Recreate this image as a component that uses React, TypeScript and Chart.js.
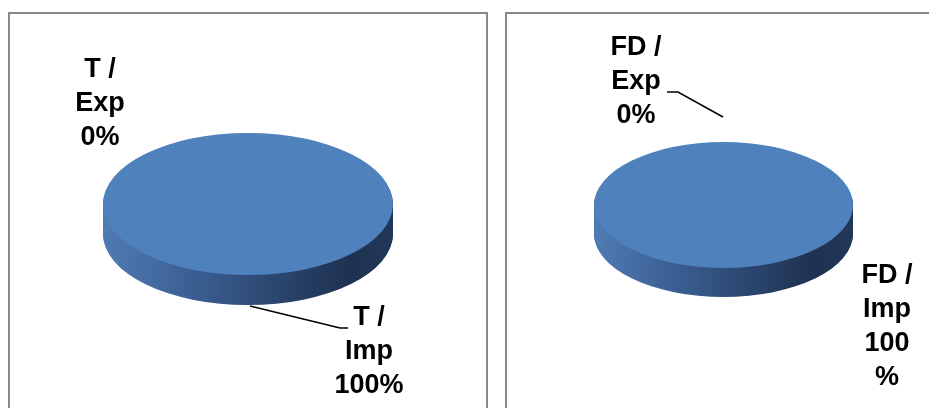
import React, { useEffect, useRef } from "react";
import { Chart, registerables } from "chart.js";

Chart.register(...registerables);

// ---- data ----
const seriesNames = ["T", "FD"];
const categories = ["Exp", "Imp"];
const tValues = [0, 100];
const fdValues = [0, 100];

const FONT = 'bold 27px "Liberation Sans", Arial, sans-serif';

type Pt = [number, number];
type LabelPos = { x: number; y: number; splitPct?: boolean };
type PanelCfg = {
  series: string;
  values: number[];
  canvasLeft: number;
  width: number;
  padding: { left: number; right: number; top: number; bottom: number };
  k: number;
  depth: number;
  labels: LabelPos[];
  leaders: Pt[][];
};

function labelLines(series: string, cat: string, value: number, total: number, splitPct?: boolean) {
  const pct = Math.round((value / total) * 100);
  const lines = [`${series} /`, cat];
  if (splitPct) lines.push(String(pct), "%");
  else lines.push(`${pct}%`);
  return lines;
}

const pie3d = {
  id: "pie3d",
  beforeDatasetsDraw(chart: any, _args: any, opts: any) {
    const meta = chart.getDatasetMeta(0);
    const arcs = meta.data as any[];
    const ctx = chart.ctx as CanvasRenderingContext2D;
    ctx.save();
    if (!arcs.length) return;
    const cx = arcs[0].x;
    const cy = arcs[0].y;
    const r = arcs[0].outerRadius;
    const k = opts.k;
    const depth = opts.depth;
    const grad = ctx.createLinearGradient(cx - r, 0, cx + r, 0);
    grad.addColorStop(0, "#4f7bb3");
    grad.addColorStop(0.25, "#3f649a");
    grad.addColorStop(0.55, "#2d4a74");
    grad.addColorStop(0.85, "#1e3150");
    grad.addColorStop(1, "#22385a");
    for (let d = depth; d >= 1; d--) {
      ctx.save();
      ctx.translate(cx, cy + d);
      ctx.scale(1, k);
      ctx.translate(-cx, -cy);
      arcs.forEach((a) => {
        if (!a.circumference) return;
        const fake = Object.assign(Object.create(Object.getPrototypeOf(a)), a, {
          options: { ...a.options, backgroundColor: grad, borderWidth: 0 },
        });
        fake.draw(ctx);
      });
      ctx.restore();
    }
    ctx.translate(cx, cy);
    ctx.scale(1, k);
    ctx.translate(-cx, -cy);
  },
  afterDatasetsDraw(chart: any) {
    chart.ctx.restore();
  },
  afterDraw(chart: any, _args: any, opts: any) {
    const ctx = chart.ctx as CanvasRenderingContext2D;
    const cfg: PanelCfg = opts.cfg;
    const total = cfg.values.reduce((s, v) => s + v, 0);
    ctx.save();
    ctx.strokeStyle = "#000";
    ctx.lineWidth = 1.5;
    cfg.leaders.forEach((pts) => {
      ctx.beginPath();
      pts.forEach(([x, y], i) => (i ? ctx.lineTo(x, y) : ctx.moveTo(x, y)));
      ctx.stroke();
    });
    ctx.fillStyle = "#000";
    ctx.font = FONT;
    ctx.textAlign = "center";
    ctx.textBaseline = "middle";
    const lh = 34;
    cfg.labels.forEach((lp, i) => {
      const lines = labelLines(cfg.series, categories[i], cfg.values[i], total, lp.splitPct);
      lines.forEach((t, j) => ctx.fillText(t, lp.x, lp.y + j * lh));
    });
    ctx.restore();
  },
};

const panels: PanelCfg[] = [
  {
    series: seriesNames[0],
    values: tValues,
    canvasLeft: 0,
    width: 496,
    padding: { left: 103, right: 103, top: 59, bottom: 59 },
    k: 0.49,
    depth: 30,
    labels: [
      { x: 100, y: 70 },
      { x: 369, y: 318 },
    ],
    leaders: [[[250, 306], [340, 328], [348, 328]]],
  },
  {
    series: seriesNames[1],
    values: fdValues,
    canvasLeft: 496,
    width: 433,
    padding: { left: 98, right: 76, top: 75.5, bottom: 73.5 },
    k: 0.486,
    depth: 29,
    labels: [
      { x: 140, y: 48 },
      { x: 391, y: 276, splitPct: true },
    ],
    leaders: [[[171, 92], [182, 92], [227, 117]]],
  },
];

function PiePanel({ cfg }: { cfg: PanelCfg }) {
  const ref = useRef<HTMLCanvasElement>(null);
  useEffect(() => {
    if (!ref.current) return;
    const chart = new Chart(ref.current, {
      type: "pie",
      data: {
        labels: categories.map((c) => `${cfg.series} / ${c}`),
        datasets: [
          {
            data: cfg.values,
            backgroundColor: ["#c0504d", "#4f81bd"],
            borderWidth: 0,
            clip: false as any,
          },
        ],
      },
      options: {
        responsive: false,
        animation: false,
        devicePixelRatio: 1,
        events: [],
        layout: { padding: cfg.padding },
        plugins: {
          legend: { display: false },
          tooltip: { enabled: false },
          pie3d: { k: cfg.k, depth: cfg.depth, cfg },
        } as any,
      },
      plugins: [pie3d as any],
    });
    return () => chart.destroy();
  }, [cfg]);
  return (
    <canvas
      ref={ref}
      width={cfg.width}
      height={408}
      style={{ position: "absolute", left: cfg.canvasLeft, top: 0, width: cfg.width, height: 408 }}
    />
  );
}

export default function App() {
  return (
    <div
      style={{
        position: "fixed",
        left: 0,
        top: 0,
        width: 929,
        height: 408,
        overflow: "hidden",
        background: "#fff",
      }}
    >
      <div
        style={{
          position: "absolute",
          left: 8,
          top: 12,
          width: 480,
          height: 420,
          border: "2px solid #888",
          boxSizing: "border-box",
        }}
      />
      <div
        style={{
          position: "absolute",
          left: 505,
          top: 12,
          width: 450,
          height: 420,
          border: "2px solid #888",
          boxSizing: "border-box",
        }}
      />
      {panels.map((p, i) => (
        <PiePanel key={i} cfg={p} />
      ))}
    </div>
  );
}
